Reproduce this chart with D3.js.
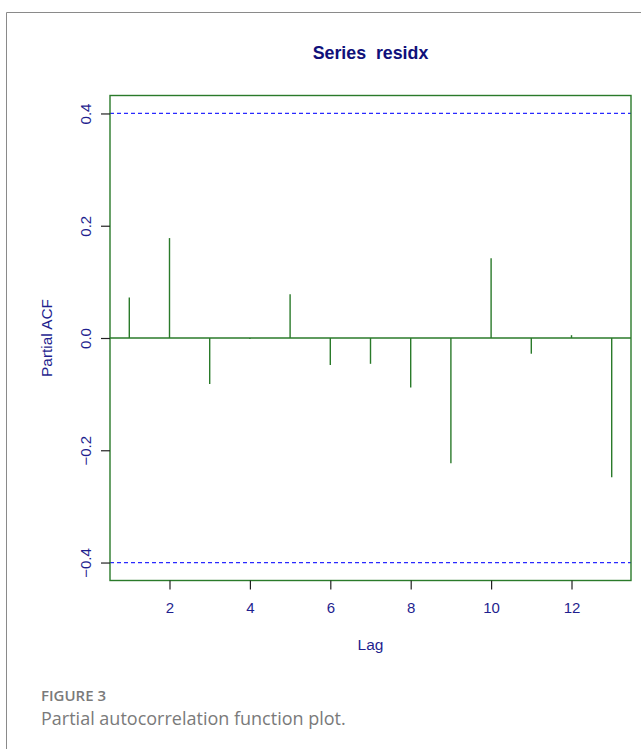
<!DOCTYPE html>
<html>
<head>
<meta charset="utf-8">
<script src="https://cdn.jsdelivr.net/npm/d3@7"></script>
<style>
  html, body { margin: 0; padding: 0; background: #fff; }
  svg { display: block; }
</style>
</head>
<body>
<script>
const lags = [1, 2, 3, 4, 5, 6, 7, 8, 9, 10, 11, 12, 13];
const pacfValues = [0.072, 0.178, -0.082, -0.002, 0.078, -0.048, -0.046, -0.088, -0.223, 0.142, -0.028, 0.005, -0.248];
const ciBound = 0.4;
const xTicks = [2, 4, 6, 8, 10, 12];
const yTicks = [-0.4, -0.2, 0.0, 0.2, 0.4];
const titleText = "Series  residx";
const xLabel = "Lag";
const yLabel = "Partial ACF";
const figLabel = "FIGURE 3";
const captionText = "Partial autocorrelation function plot.";

const W = 641, H = 749;
const svg = d3.select("body").append("svg").attr("width", W).attr("height", H);

// outer frame
svg.append("path")
  .attr("d", `M6.5,${H} L6.5,12.5 L${W},12.5`)
  .attr("fill", "none").attr("stroke", "#8a8a8a").attr("stroke-width", 1);

const plot = { left: 110, right: 631, top: 95.5, bottom: 580.5 };

const x = d3.scaleLinear().domain([0.52, 13.48]).range([plot.left, plot.right]);
const y = d3.scaleLinear().domain([-0.432, 0.432]).range([plot.bottom, plot.top]);

const axisColor = "#1f1f8f";
const green = "#2a7a2a";
const font = "'Liberation Sans', Arial, sans-serif";

// title
svg.append("text").attr("x", (plot.left + plot.right) / 2).attr("y", 59)
  .attr("text-anchor", "middle").attr("font-family", font).attr("font-weight", "bold")
  .attr("font-size", 17.8).attr("fill", "#10107a").attr("xml:space", "preserve")
  .text(titleText);

// CI lines
[ciBound, -ciBound].forEach(v => {
  svg.append("line")
    .attr("x1", plot.left).attr("x2", plot.right)
    .attr("y1", y(v)).attr("y2", y(v))
    .attr("stroke", "#2a2aff").attr("stroke-width", 1.3).attr("stroke-dasharray", "4,3");
});

// zero line
svg.append("line").attr("x1", plot.left).attr("x2", plot.right)
  .attr("y1", y(0)).attr("y2", y(0)).attr("stroke", green).attr("stroke-width", 1.4);

// spikes
svg.append("g").selectAll("line").data(lags).join("line")
  .attr("x1", d => x(d)).attr("x2", d => x(d))
  .attr("y1", y(0)).attr("y2", (d, i) => y(pacfValues[i]))
  .attr("stroke", green).attr("stroke-width", 1.4);

// plot frame
svg.append("rect").attr("x", plot.left).attr("y", plot.top)
  .attr("width", plot.right - plot.left).attr("height", plot.bottom - plot.top)
  .attr("fill", "none").attr("stroke", green).attr("stroke-width", 1.4);

// x axis
const xAxis = svg.append("g").attr("transform", `translate(0,${plot.bottom})`)
  .call(d3.axisBottom(x).tickValues(xTicks).tickSize(9).tickPadding(13).tickFormat(d3.format("d")));
xAxis.select(".domain").remove();
xAxis.selectAll(".tick line").attr("stroke", "#222").attr("stroke-width", 1.2);
xAxis.selectAll(".tick text").attr("fill", axisColor).attr("font-family", font).attr("font-size", 15);

// y axis
const yAxis = svg.append("g").attr("transform", `translate(${plot.left},0)`)
  .call(d3.axisLeft(y).tickValues(yTicks).tickSize(9).tickFormat(d => d3.format(".1f")(d).replace("-", "\u2212")));
yAxis.select(".domain").remove();
yAxis.selectAll(".tick line").attr("stroke", "#222").attr("stroke-width", 1.2);
yAxis.selectAll(".tick text")
  .attr("fill", axisColor).attr("font-family", font).attr("font-size", 15)
  .attr("text-anchor", "middle").attr("dy", null)
  .attr("x", null)
  .attr("transform", "translate(-25,0) rotate(-90)")
  .attr("dominant-baseline", "central");

// axis labels
svg.append("text").attr("x", (plot.left + plot.right) / 2).attr("y", 650)
  .attr("text-anchor", "middle").attr("font-family", font).attr("font-size", 15.5)
  .attr("fill", axisColor).text(xLabel);
svg.append("text")
  .attr("transform", `translate(52,${(plot.top + plot.bottom) / 2}) rotate(-90)`)
  .attr("text-anchor", "middle").attr("font-family", font).attr("font-size", 15.4)
  .attr("fill", axisColor).text(yLabel);

// caption
svg.append("text").attr("x", 41).attr("y", 701)
  .attr("font-family", "'Open Sans', 'Noto Sans', sans-serif").attr("font-size", 15)
  .attr("font-weight", 600).attr("fill", "#7a7a7a").text(figLabel);
svg.append("text").attr("x", 41).attr("y", 725)
  .attr("font-family", "'Open Sans', 'Noto Sans', sans-serif").attr("font-size", 18)
  .attr("fill", "#7a7a7a").text(captionText);
</script>
</body>
</html>
